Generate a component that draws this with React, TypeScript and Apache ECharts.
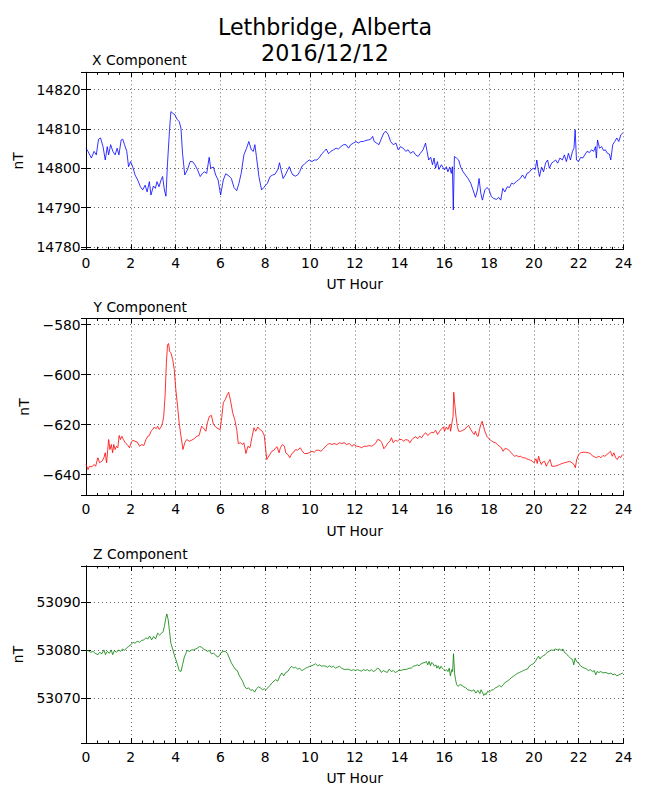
import React, { useEffect, useRef } from "react";
import * as echarts from "echarts";

const titleLines = ["Lethbridge, Alberta", "2016/12/12"];
const panelTitles = ["X Component", "Y Component", "Z Component"];
const xAxisTitle = "UT Hour";
const yAxisTitle = "nT";
const hourRange = [0, 24];
const hourStep = 2;
const yRanges = [
  [14779.4, 14824.4],
  [-648.4, -577.6],
  [53060.6, 53097.5],
];
const ySplits = [5, 3, 5];
const lineColors = ["#0000ff", "#ff0000", "#008000"];

const xComponent = [
  [0, 14805.1], [0.09, 14804.3], [0.24, 14802.6], [0.36, 14804.3], [0.46, 14803.4], [0.56, 14807.4], [0.65, 14807.7],
  [0.76, 14805.5], [0.86, 14802.1], [0.95, 14805.5], [1.01, 14803.4], [1.1, 14806], [1.2, 14804.3], [1.3, 14803.4],
  [1.39, 14805.1], [1.47, 14803.4], [1.57, 14807.2], [1.64, 14807.4], [1.72, 14806], [1.82, 14804.3], [1.9, 14800.4],
  [1.99, 14801.7], [2.09, 14800.3], [2.19, 14798.3], [2.31, 14797], [2.43, 14795.3], [2.53, 14794.5], [2.64, 14795.7],
  [2.73, 14794], [2.83, 14796.6], [2.9, 14793.2], [3.01, 14795.5], [3.1, 14794.9], [3.17, 14796.6], [3.26, 14795.3],
  [3.35, 14797], [3.42, 14797.9], [3.5, 14794.5], [3.57, 14792.9], [3.64, 14801.3], [3.73, 14809.8], [3.79, 14814.4],
  [3.87, 14814], [3.97, 14813.6], [4.06, 14812.5], [4.16, 14811.9], [4.24, 14810.2], [4.31, 14803.8], [4.41, 14798.3],
  [4.53, 14799.6], [4.65, 14801.7], [4.76, 14801.7], [4.86, 14800.9], [4.98, 14799.6], [5.1, 14797.9], [5.2, 14798.7],
  [5.3, 14799.1], [5.39, 14798.7], [5.5, 14802.8], [5.57, 14800], [5.69, 14800.3], [5.79, 14798.3], [5.9, 14797],
  [6.01, 14793.2], [6.13, 14797], [6.24, 14798.6], [6.39, 14798], [6.49, 14797.4], [6.61, 14795.1], [6.73, 14794.3],
  [6.83, 14796.2], [6.93, 14798.7], [7.05, 14803.4], [7.17, 14805.1], [7.27, 14806.8], [7.38, 14804.7], [7.47, 14804.3],
  [7.54, 14806], [7.61, 14803], [7.72, 14797.9], [7.84, 14794.5], [7.94, 14795.1], [8.02, 14795.7], [8.1, 14796.2],
  [8.22, 14797.9], [8.34, 14798.3], [8.44, 14798.5], [8.56, 14799.6], [8.64, 14801.4], [8.71, 14799.6], [8.8, 14797.4],
  [8.9, 14798.3], [9.01, 14799.6], [9.08, 14800.4], [9.16, 14799.1], [9.24, 14798.3], [9.35, 14798], [9.45, 14798.3],
  [9.54, 14799.1], [9.65, 14800.6], [9.76, 14801.1], [9.87, 14801.7], [9.97, 14802.1], [10.09, 14801.7], [10.19, 14802.1],
  [10.31, 14802.1], [10.43, 14802.8], [10.53, 14803.7], [10.64, 14804.3], [10.73, 14804.9], [10.83, 14803.7],
  [10.93, 14804.3], [11.05, 14804.7], [11.17, 14805.1], [11.27, 14804.9], [11.38, 14805.5], [11.5, 14806], [11.61, 14806],
  [11.72, 14805.1], [11.82, 14806], [11.94, 14806.4], [12.06, 14806.8], [12.16, 14806.4], [12.27, 14806.8],
  [12.39, 14806.8], [12.5, 14807.1], [12.61, 14807.2], [12.71, 14807.4], [12.8, 14808.1], [12.87, 14806.8],
  [12.98, 14806.4], [13.08, 14806], [13.2, 14807.7], [13.3, 14809], [13.39, 14809.4], [13.5, 14808.5], [13.6, 14806.8],
  [13.72, 14806], [13.84, 14806.4], [13.94, 14804.7], [14.04, 14805.5], [14.16, 14805.1], [14.28, 14804.3],
  [14.38, 14804.7], [14.49, 14803.8], [14.61, 14804.3], [14.72, 14803.4], [14.83, 14803], [14.93, 14803.8],
  [15.05, 14804.7], [15.16, 14806.4], [15.23, 14804.3], [15.3, 14802.1], [15.39, 14802.8], [15.47, 14800.9],
  [15.54, 14802.6], [15.61, 14800], [15.69, 14801.7], [15.76, 14799.7], [15.87, 14800.9], [15.94, 14800.2],
  [16.01, 14799.6], [16.09, 14800.4], [16.16, 14799.1], [16.24, 14800.3], [16.31, 14798.7], [16.36, 14800.4],
  [16.4, 14789.4], [16.45, 14803], [16.54, 14802.6], [16.64, 14802.1], [16.73, 14800.3], [16.84, 14799.1],
  [16.94, 14798.3], [17.06, 14797.4], [17.18, 14796.2], [17.28, 14794.5], [17.39, 14792.6], [17.48, 14794.5],
  [17.55, 14797.4], [17.63, 14793.6], [17.7, 14791.9], [17.81, 14794.5], [17.91, 14795.1], [18, 14794.5],
  [18.1, 14792.8], [18.21, 14792.3], [18.33, 14792.1], [18.43, 14792.6], [18.52, 14791.9], [18.61, 14794.9],
  [18.7, 14794], [18.81, 14795.3], [18.91, 14795.1], [19, 14796.2], [19.1, 14796], [19.21, 14796.6], [19.3, 14797],
  [19.39, 14797.4], [19.49, 14798.3], [19.6, 14797.4], [19.69, 14798.7], [19.78, 14798.9], [19.87, 14799.6],
  [19.97, 14800], [20.06, 14799.7], [20.13, 14802.1], [20.19, 14799.6], [20.25, 14797.9], [20.34, 14800.3],
  [20.43, 14799.1], [20.52, 14801.3], [20.61, 14802.1], [20.69, 14800], [20.79, 14801.3], [20.88, 14801.7],
  [20.97, 14802.1], [21.06, 14801.3], [21.16, 14802.6], [21.27, 14802.1], [21.36, 14803.4], [21.45, 14801.7],
  [21.54, 14803.8], [21.63, 14802.1], [21.72, 14804.3], [21.79, 14805.1], [21.84, 14809.8], [21.9, 14802.1],
  [21.99, 14801.7], [22.09, 14802.8], [22.18, 14802.6], [22.27, 14803.4], [22.37, 14804.3], [22.48, 14804],
  [22.57, 14804.7], [22.67, 14804.3], [22.75, 14805.5], [22.79, 14802.6], [22.84, 14807.2], [22.93, 14805.1],
  [23.02, 14805.5], [23.11, 14804.5], [23.19, 14804.7], [23.28, 14803.8], [23.37, 14803.6], [23.43, 14802.1],
  [23.52, 14806], [23.61, 14806.8], [23.7, 14807.7], [23.79, 14806.8], [23.88, 14808.5], [23.97, 14809],
];

const yComponent = [
  [0, -636], [0.09, -638], [0.16, -636.7], [0.27, -636.9], [0.36, -636], [0.43, -636.7], [0.53, -633.3], [0.61, -635.3],
  [0.71, -634.7], [0.8, -633.3], [0.86, -631.3], [0.92, -635.3], [1.01, -626], [1.07, -630], [1.13, -628], [1.19, -631.3],
  [1.24, -628], [1.3, -630], [1.36, -628.7], [1.42, -629.3], [1.48, -624.4], [1.54, -626], [1.6, -624.7], [1.67, -626],
  [1.75, -627.3], [1.84, -628], [1.94, -629.3], [2.01, -627.3], [2.09, -626.3], [2.19, -626.7], [2.28, -627],
  [2.39, -628.7], [2.49, -628], [2.58, -628.4], [2.68, -626], [2.76, -624.7], [2.83, -624.4], [2.9, -622.7], [2.98, -622],
  [3.05, -621], [3.13, -621.7], [3.2, -620.7], [3.27, -622], [3.35, -621], [3.42, -619.3], [3.47, -616.7], [3.53, -608.7],
  [3.59, -595.3], [3.64, -588.2], [3.69, -587.6], [3.73, -590.7], [3.79, -591.3], [3.87, -594], [3.94, -598], [4.01, -606],
  [4.09, -612.7], [4.16, -619.3], [4.24, -624.7], [4.33, -630], [4.41, -627.3], [4.5, -626], [4.61, -626.7],
  [4.71, -626.3], [4.83, -625.7], [4.95, -624.7], [5.05, -624.4], [5.16, -620.7], [5.24, -621.3], [5.35, -622.7],
  [5.42, -619.3], [5.51, -616.7], [5.6, -616.4], [5.69, -620], [5.79, -621], [5.9, -621.7], [5.99, -622], [6.06, -617.3],
  [6.13, -611.3], [6.22, -610], [6.31, -608], [6.37, -607.1], [6.46, -610.7], [6.55, -615.3], [6.64, -618], [6.73, -622],
  [6.8, -627.6], [6.9, -627.3], [6.99, -628], [7.05, -627.3], [7.14, -631.6], [7.23, -628.7], [7.32, -629.3],
  [7.42, -624.7], [7.5, -621.3], [7.58, -622.7], [7.67, -621], [7.76, -622], [7.87, -622.7], [7.96, -624.4],
  [8.01, -628.7], [8.07, -634], [8.12, -633.3], [8.21, -632], [8.3, -630.7], [8.39, -630.3], [8.47, -629.3],
  [8.53, -628.9], [8.62, -631.3], [8.68, -629.3], [8.77, -628], [8.86, -628.7], [8.92, -631.3], [9.01, -632],
  [9.1, -633.3], [9.19, -631.6], [9.27, -631.1], [9.36, -630], [9.45, -630.3], [9.57, -629.3], [9.66, -630.7],
  [9.75, -631.6], [9.87, -631.6], [9.97, -631.3], [10.09, -630.7], [10.19, -631.1], [10.28, -630.3], [10.39, -630.3],
  [10.49, -630.7], [10.61, -629.7], [10.7, -628.7], [10.79, -628], [10.87, -627.6], [10.98, -628], [11.08, -627.6],
  [11.2, -628], [11.32, -627.3], [11.42, -627.6], [11.53, -627.3], [11.64, -628], [11.76, -627.6], [11.87, -628.7],
  [11.97, -628], [12.09, -628.7], [12.21, -628.9], [12.31, -629.3], [12.41, -628.7], [12.53, -628.7], [12.65, -628.4],
  [12.76, -628.7], [12.86, -628], [12.95, -627.3], [13.02, -626], [13.13, -626.3], [13.21, -627.3], [13.3, -629.7],
  [13.39, -628.7], [13.49, -627.3], [13.57, -626.7], [13.64, -625.3], [13.72, -627.3], [13.81, -626.3], [13.9, -626.7],
  [13.99, -626], [14.09, -626], [14.19, -626.7], [14.28, -626], [14.39, -626.3], [14.46, -627.3], [14.55, -626],
  [14.64, -625.3], [14.73, -624.9], [14.81, -625.7], [14.9, -624.7], [14.99, -625.3], [15.08, -624], [15.17, -623.3],
  [15.26, -624.4], [15.35, -623.6], [15.44, -623.1], [15.53, -623.3], [15.61, -622.3], [15.7, -624], [15.79, -622.7],
  [15.87, -621.7], [15.96, -621], [16.01, -622.7], [16.09, -621], [16.16, -622], [16.24, -620], [16.28, -622.7],
  [16.34, -619.3], [16.39, -616.7], [16.42, -607.1], [16.46, -611.3], [16.52, -616.7], [16.58, -620.7], [16.64, -622.7],
  [16.73, -622.7], [16.82, -622.3], [16.91, -622], [17, -621], [17.09, -620.4], [17.18, -622], [17.27, -623.3],
  [17.33, -624], [17.39, -622.7], [17.45, -624.4], [17.51, -624.7], [17.57, -622], [17.63, -620], [17.69, -618.7],
  [17.75, -620.7], [17.81, -622.7], [17.9, -624.7], [17.99, -625.7], [18.07, -626.3], [18.18, -627], [18.28, -627.3],
  [18.37, -628], [18.46, -628.7], [18.55, -629.3], [18.62, -630.7], [18.7, -629.7], [18.79, -629.7], [18.88, -630.3],
  [18.97, -631.1], [19.05, -632], [19.14, -632.7], [19.23, -632.4], [19.32, -632.9], [19.41, -632.7], [19.5, -633.3],
  [19.59, -633.3], [19.68, -633.7], [19.76, -634], [19.85, -634.3], [19.94, -634.7], [20, -635.3], [20.09, -633.7],
  [20.15, -635.6], [20.21, -632.7], [20.27, -634.7], [20.33, -636], [20.39, -635], [20.48, -634.7], [20.55, -636.7],
  [20.63, -635.3], [20.72, -634], [20.8, -636.7], [20.92, -636.7], [21.04, -636.4], [21.15, -636], [21.25, -635.6],
  [21.37, -635.3], [21.49, -635], [21.59, -634.7], [21.7, -635.3], [21.79, -636], [21.85, -637.3], [21.91, -634],
  [22, -632], [22.09, -631.3], [22.2, -631.1], [22.3, -631.1], [22.42, -631.3], [22.51, -631.6], [22.6, -632.4],
  [22.69, -632.9], [22.79, -633.3], [22.9, -632.7], [22.99, -633.3], [23.08, -632.4], [23.17, -632.7], [23.26, -632],
  [23.35, -631.3], [23.42, -630.7], [23.5, -632.7], [23.57, -631.3], [23.65, -633.3], [23.72, -634], [23.8, -632.7],
  [23.87, -633.3], [23.95, -632],
];

const zComponent = [
  [0, 53079.7], [0.09, 53079.9], [0.21, 53079.5], [0.31, 53079.7], [0.41, 53079.3], [0.53, 53079], [0.61, 53079.5],
  [0.71, 53079.2], [0.8, 53080], [0.87, 53079], [0.95, 53079.7], [1.04, 53079.3], [1.13, 53080], [1.19, 53079],
  [1.27, 53079.9], [1.36, 53079.5], [1.45, 53080], [1.54, 53079.7], [1.63, 53080.2], [1.72, 53079.9], [1.81, 53080.4],
  [1.9, 53080.7], [2.01, 53081.1], [2.1, 53081.6], [2.19, 53081.4], [2.28, 53081.8], [2.39, 53081.6], [2.49, 53082],
  [2.58, 53082.1], [2.67, 53082.5], [2.76, 53082.3], [2.84, 53082.9], [2.93, 53082.1], [3.02, 53082.8], [3.11, 53082.3],
  [3.2, 53083.5], [3.29, 53083.1], [3.38, 53083.5], [3.44, 53083.8], [3.5, 53084.9], [3.56, 53086.6], [3.61, 53087.5],
  [3.67, 53086.3], [3.73, 53083.8], [3.79, 53081.4], [3.87, 53080.2], [3.94, 53079], [4.01, 53078], [4.09, 53076.9],
  [4.16, 53075.7], [4.24, 53075.5], [4.31, 53076.9], [4.39, 53078.5], [4.46, 53079.3], [4.53, 53079.9], [4.62, 53079.7],
  [4.71, 53080], [4.8, 53080], [4.89, 53080.2], [4.98, 53080.4], [5.07, 53080.7], [5.16, 53080.6], [5.24, 53080.2],
  [5.33, 53080], [5.42, 53079.7], [5.51, 53079.9], [5.6, 53079.2], [5.69, 53079.3], [5.78, 53079], [5.87, 53078.5],
  [5.96, 53078.8], [6.04, 53079.5], [6.13, 53079.7], [6.22, 53079.7], [6.31, 53079.3], [6.4, 53078.3], [6.49, 53077.3],
  [6.58, 53076.6], [6.68, 53075.9], [6.76, 53075.7], [6.83, 53074.8], [6.9, 53074.2], [6.99, 53073.5], [7.08, 53072.4],
  [7.17, 53071.9], [7.26, 53072.1], [7.35, 53071.6], [7.44, 53071.7], [7.53, 53071.2], [7.61, 53071.9], [7.7, 53072.3],
  [7.79, 53072.1], [7.88, 53071.7], [7.97, 53071.9], [8.03, 53071.7], [8.12, 53072.1], [8.21, 53072.6], [8.3, 53073.1],
  [8.39, 53073.5], [8.47, 53073.8], [8.56, 53073.5], [8.65, 53074.5], [8.74, 53075.2], [8.83, 53074.6], [8.92, 53075.3],
  [9.01, 53075.5], [9.1, 53076.2], [9.19, 53076.6], [9.27, 53076.2], [9.36, 53076.4], [9.45, 53076], [9.54, 53076.2],
  [9.63, 53075.7], [9.72, 53075.9], [9.81, 53076.2], [9.9, 53076.4], [9.99, 53076.6], [10.07, 53076.7], [10.16, 53076.9],
  [10.25, 53077.1], [10.34, 53076.7], [10.43, 53076.9], [10.52, 53076.6], [10.61, 53076.7], [10.7, 53076.6],
  [10.79, 53076.4], [10.87, 53076.7], [10.96, 53076.4], [11.05, 53076.6], [11.14, 53076.2], [11.23, 53076.4],
  [11.32, 53076.6], [11.41, 53076.2], [11.5, 53076], [11.59, 53075.9], [11.67, 53076], [11.76, 53075.9], [11.85, 53075.7],
  [11.94, 53075.9], [12.03, 53075.7], [12.12, 53075.9], [12.21, 53075.7], [12.3, 53075.6], [12.39, 53075.9],
  [12.47, 53075.7], [12.56, 53075.9], [12.65, 53075.6], [12.74, 53075.9], [12.83, 53075.5], [12.92, 53075.7],
  [13.01, 53076.2], [13.1, 53076], [13.19, 53075.3], [13.27, 53075.7], [13.36, 53075.5], [13.45, 53075.3], [13.54, 53076],
  [13.63, 53075.5], [13.72, 53075.7], [13.81, 53075.3], [13.9, 53075.5], [13.99, 53075.9], [14.07, 53075.7],
  [14.16, 53075.9], [14.25, 53075.9], [14.34, 53076], [14.43, 53076.2], [14.52, 53076.2], [14.61, 53076.6],
  [14.7, 53076.7], [14.79, 53076.9], [14.87, 53076.7], [14.96, 53077.1], [15.05, 53077.3], [15.14, 53077.4],
  [15.2, 53077.6], [15.26, 53076.9], [15.32, 53077.6], [15.38, 53076.7], [15.44, 53077.4], [15.5, 53077.1],
  [15.56, 53076.6], [15.62, 53076.9], [15.67, 53076.2], [15.73, 53076.7], [15.79, 53076], [15.85, 53076.6],
  [15.91, 53076.2], [15.97, 53075.9], [16.04, 53075.7], [16.1, 53075.9], [16.16, 53075.5], [16.22, 53076.2],
  [16.27, 53074.6], [16.33, 53075.9], [16.37, 53075.5], [16.41, 53079.2], [16.46, 53075], [16.5, 53073.8],
  [16.55, 53072.8], [16.61, 53072.4], [16.7, 53072.8], [16.79, 53072.6], [16.87, 53072.3], [16.96, 53072.1],
  [17.05, 53071.7], [17.14, 53071.6], [17.23, 53071.4], [17.32, 53071.7], [17.41, 53071], [17.5, 53071.6],
  [17.59, 53070.9], [17.64, 53071.7], [17.7, 53071.2], [17.76, 53070.5], [17.81, 53070.9], [17.87, 53070.7],
  [17.93, 53071.4], [18.01, 53071.2], [18.1, 53071.6], [18.19, 53071.7], [18.28, 53072.1], [18.37, 53072.3],
  [18.46, 53072.6], [18.55, 53072.3], [18.64, 53072.8], [18.73, 53073.3], [18.81, 53073.5], [18.9, 53073.8],
  [18.99, 53074.2], [19.08, 53074.5], [19.17, 53074.8], [19.26, 53075.1], [19.35, 53075.3], [19.44, 53075.5],
  [19.53, 53075.7], [19.62, 53075.9], [19.71, 53076], [19.79, 53076.6], [19.88, 53076.9], [19.97, 53077.1],
  [20.06, 53077.6], [20.15, 53078.3], [20.21, 53078.7], [20.27, 53078.1], [20.33, 53078.5], [20.42, 53078.8],
  [20.5, 53079], [20.59, 53079.5], [20.68, 53079.7], [20.77, 53080], [20.86, 53079.9], [20.95, 53080.2], [21.04, 53080],
  [21.13, 53080.2], [21.21, 53079.9], [21.3, 53080.2], [21.36, 53079.5], [21.45, 53079.2], [21.54, 53078.7],
  [21.63, 53078.3], [21.72, 53078], [21.78, 53076.9], [21.84, 53078.3], [21.9, 53077.6], [21.99, 53077.3],
  [22.08, 53076.7], [22.17, 53076.4], [22.26, 53076.2], [22.35, 53076], [22.43, 53075.7], [22.52, 53075.9],
  [22.61, 53075.5], [22.7, 53075.7], [22.76, 53074.8], [22.82, 53075.5], [22.9, 53075.3], [22.99, 53075.5],
  [23.08, 53075.2], [23.17, 53075.3], [23.26, 53075.2], [23.35, 53075], [23.44, 53075.2], [23.53, 53074.8],
  [23.61, 53075], [23.7, 53074.6], [23.79, 53074.8], [23.88, 53075], [23.97, 53075.2],
];

const seriesData = [xComponent, yComponent, zComponent];

const FONT = "DejaVu Sans";
const FS = 13.9;
const GRID_LEFT = 86;
const GRID_WIDTH = 537.5;
const GRID_HEIGHT = 177;
const GRID_TOPS = [72.3, 318.5, 566];
const PANEL_TITLE_X = [92, 93.5, 93];

function fmtY(v: number) {
  if (Math.abs(v - Math.round(v / 10) * 10) > 1e-6) return "";
  const r = Math.round(v);
  return r < 0 ? "\u2212" + String(-r) : String(r);
}

export default function App() {
  const ref = useRef<HTMLDivElement>(null);
  useEffect(() => {
    const chart = echarts.init(ref.current!, null, { renderer: "svg" });
    const grids: any[] = [];
    const xAxes: any[] = [];
    const yAxes: any[] = [];
    const series: any[] = [];
    const graphics: any[] = [];
    const tickStyle = { inside: true, length: 5, lineStyle: { color: "#000", width: 1 } };
    const axisLine = { show: true, lineStyle: { color: "#000", width: 1 } };
    const splitLine = { show: true, lineStyle: { color: "#000", width: 0.6, type: [1, 3] } };
    const labelStyle = { color: "#000", fontFamily: FONT, fontSize: FS };

    for (let i = 0; i < 3; i++) {
      grids.push({ left: GRID_LEFT, top: GRID_TOPS[i], width: GRID_WIDTH, height: GRID_HEIGHT });
      const xBase = {
        type: "value",
        gridIndex: i,
        min: hourRange[0],
        max: hourRange[1],
        interval: hourStep,
        axisLine,
        axisTick: tickStyle,
        minorTick: { show: true, splitNumber: 4, length: 2.5, lineStyle: { color: "#000", width: 1 } },
      };
      xAxes.push({
        ...xBase,
        position: "bottom",
        name: xAxisTitle,
        nameLocation: "middle",
        nameGap: 27,
        nameTextStyle: { ...labelStyle, lineHeight: 16 },
        axisLabel: { ...labelStyle, margin: 5.5, lineHeight: 16, formatter: (v: number) => String(v) },
        splitLine,
      });
      xAxes.push({
        ...xBase,
        position: "top",
        axisLabel: { show: false },
        splitLine: { show: false },
      });
      const yBase = {
        type: "value",
        gridIndex: i,
        min: yRanges[i][0],
        max: yRanges[i][1],
        splitNumber: ySplits[i],
        axisLine,
        axisTick: tickStyle,
      };
      yAxes.push({
        ...yBase,
        position: "left",
        name: yAxisTitle,
        nameLocation: "middle",
        nameRotate: 90,
        nameGap: 54.5,
        nameTextStyle: { ...labelStyle, lineHeight: 16 },
        axisLabel: { ...labelStyle, margin: 5.3, formatter: fmtY, showMinLabel: true, showMaxLabel: true },
        splitLine,
      });
      yAxes.push({
        ...yBase,
        position: "right",
        axisLabel: { show: false },
        splitLine: { show: false },
      });
      series.push({
        type: "line",
        xAxisIndex: 2 * i,
        yAxisIndex: 2 * i,
        data: seriesData[i],
        showSymbol: false,
        symbol: "none",
        lineStyle: { color: lineColors[i], width: 0.8 },
        itemStyle: { color: lineColors[i] },
        silent: true,
        clip: true,
      });
      graphics.push({
        type: "text",
        x: PANEL_TITLE_X[i],
        y: GRID_TOPS[i] - 12,
        style: {
          text: panelTitles[i],
          fontFamily: FONT,
          fontSize: FS,
          fill: "#000",
          align: "left",
          verticalAlign: "middle",
        },
      });
    }
    graphics.push({
      type: "text",
      x: 325,
      y: 27.3,
      style: { text: titleLines[0], fontFamily: FONT, fontSize: 22.2, fill: "#000", align: "center", verticalAlign: "middle" },
    });
    graphics.push({
      type: "text",
      x: 325,
      y: 53.3,
      style: { text: titleLines[1], fontFamily: FONT, fontSize: 22.2, fill: "#000", align: "center", verticalAlign: "middle" },
    });

    chart.setOption({
      animation: false,
      backgroundColor: "#fff",
      textStyle: { fontFamily: FONT },
      grid: grids,
      xAxis: xAxes,
      yAxis: yAxes,
      series,
      graphic: graphics,
    });
    return () => chart.dispose();
  }, []);
  return <div ref={ref} style={{ position: "absolute", left: 0, top: 0, width: 650, height: 800 }} />;
}
